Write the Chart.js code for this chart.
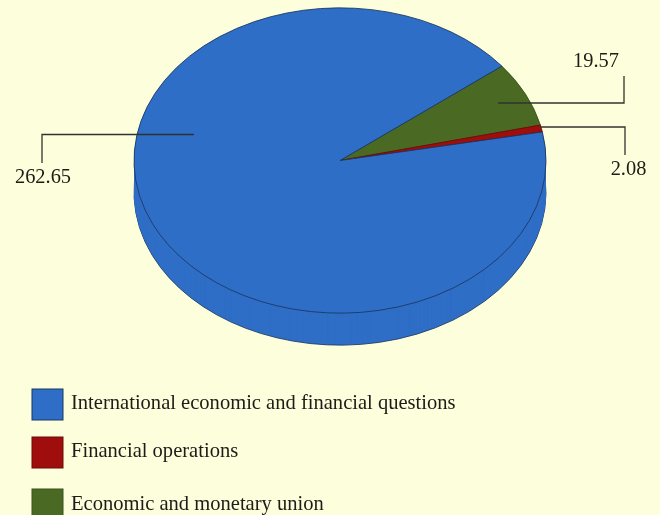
<!DOCTYPE html>
<html lang="en">
<head>
  <meta charset="UTF-8">
  <title>Budget by heading</title>
  <script src="https://cdn.jsdelivr.net/npm/chart.js"></script>
  <style>
    html, body { margin: 0; background: #fdfedc; overflow: hidden; }
    canvas { display: block; }
  </style>
</head>
<body>
  <canvas id="pie" width="660" height="515"></canvas>
  <script>
    const categories = ['International economic and financial questions', 'Financial operations', 'Economic and monetary union'];
    const values = [262.65, 2.08, 19.57];
    const valueLabels = ['262.65', '2.08', '19.57'];
    const fillColors = ['#2f6ec6', '#a00d0d', '#4a6a24'];
    const edgeColors = ['#1b3763', '#6d0a0a', '#3a5220'];

    // the slices run clockwise from green, so the dataset is the reverse of the legend order
    const sliceOrder = [2, 1, 0];

    const SQUASH = 0.741;
    const TOP_CY = 160.5;
    const DEPTH = 32;
    const FONT = '"Liberation Serif", serif';
    const INK = '#1c1c18';

    // leader line and label placement, same order as categories
    const leaders = [
      { path: [[194, 134.5], [42, 134.5], [42, 163]], text: [43, 178] },
      { path: [[541, 127], [625, 127], [625, 155]], text: [628.5, 170] },
      { path: [[498, 103], [624, 103], [624, 76]], text: [596, 62] }
    ];
    const legendRows = [{ box: 389, text: 404 }, { box: 437, text: 452 }, { box: 489, text: 505 }];

    function squash(ctx, arc, drop) {
      ctx.translate(arc.x, TOP_CY + drop);
      ctx.scale(1, SQUASH);
      ctx.translate(-arc.x, -arc.y);
    }

    const disc3d = {
      id: 'disc3d',
      beforeDatasetsDraw(chart) {
        const ctx = chart.ctx;
        const arcs = chart.getDatasetMeta(0).data;
        // side wall: stack of borderless copies, outlined copy at the bottom
        for (let drop = DEPTH; drop > 0; drop--) {
          arcs.forEach(arc => {
            const copy = Object.create(arc);
            copy.options = { ...arc.options, borderWidth: drop === DEPTH ? arc.options.borderWidth : 0 };
            ctx.save();
            squash(ctx, arc, drop);
            copy.draw(ctx);
            ctx.restore();
          });
        }
        ctx.save();
        squash(ctx, arcs[0], 0);
      },
      afterDatasetsDraw(chart) {
        chart.ctx.restore();
      },
      afterDraw(chart) {
        const ctx = chart.ctx;
        ctx.save();
        ctx.strokeStyle = '#33332e';
        ctx.lineWidth = 1.3;
        ctx.fillStyle = INK;
        ctx.textAlign = 'center';
        ctx.textBaseline = 'middle';
        ctx.font = '20.4px ' + FONT;
        leaders.forEach((leader, i) => {
          ctx.beginPath();
          leader.path.forEach(([x, y], j) => (j ? ctx.lineTo(x, y) : ctx.moveTo(x, y)));
          ctx.stroke();
          ctx.fillText(valueLabels[i], leader.text[0], leader.text[1]);
        });

        // legend
        ctx.textAlign = 'left';
        ctx.font = '20.55px ' + FONT;
        ctx.lineWidth = 1;
        categories.forEach((name, i) => {
          ctx.fillStyle = fillColors[i];
          ctx.strokeStyle = edgeColors[i];
          ctx.fillRect(32, legendRows[i].box, 31, 31);
          ctx.strokeRect(32, legendRows[i].box, 31, 31);
          ctx.fillStyle = INK;
          ctx.fillText(name, 71, legendRows[i].text);
        });
        ctx.restore();
      }
    };

    new Chart(document.getElementById('pie'), {
      type: 'pie',
      data: {
        labels: sliceOrder.map(i => categories[i]),
        datasets: [{
          data: sliceOrder.map(i => values[i]),
          backgroundColor: sliceOrder.map(i => fillColors[i]),
          borderColor: sliceOrder.map(i => edgeColors[i]),
          borderWidth: 1,
          clip: false
        }]
      },
      options: {
        responsive: false,
        animation: false,
        rotation: 51.8,
        layout: { padding: { left: 133.5, right: 113.5, top: 0, bottom: 0 } },
        plugins: { legend: { display: false }, tooltip: { enabled: false } }
      },
      plugins: [disc3d]
    });
  </script>
</body>
</html>
